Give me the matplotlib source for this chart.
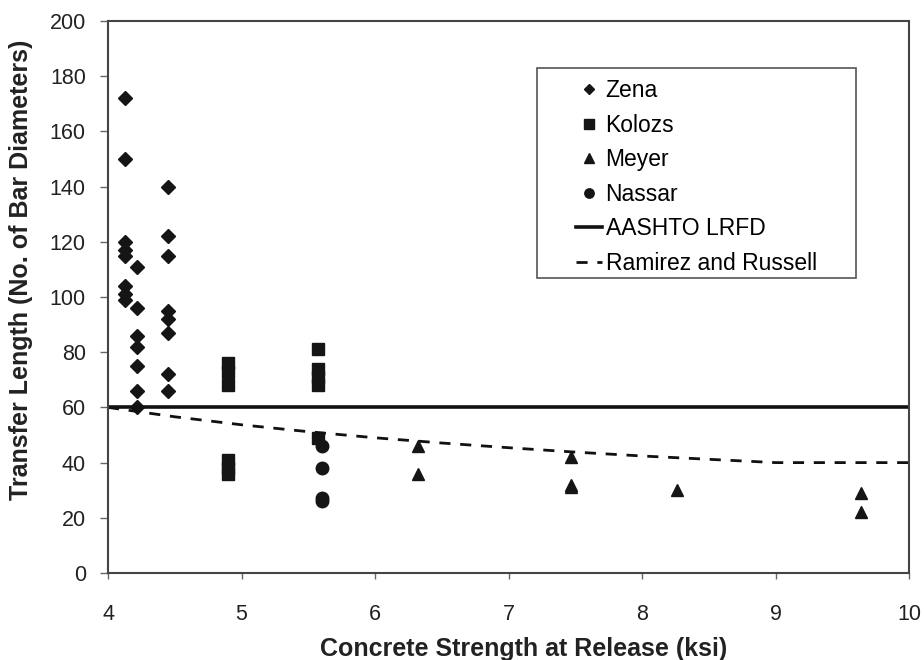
import matplotlib
matplotlib.use("Agg")
import matplotlib.pyplot as plt
from matplotlib.patches import Rectangle

plt.rcParams['font.family'] = ['Liberation Sans', 'DejaVu Sans']

# Transfer length measurements, (f'ci in ksi, length in bar diameters)
zena_x = [4.13, 4.13, 4.13, 4.13, 4.13, 4.13, 4.13, 4.13,
          4.22, 4.22, 4.22, 4.22, 4.22, 4.22, 4.22,
          4.45, 4.45, 4.45, 4.45, 4.45, 4.45, 4.45, 4.45]
zena_y = [172, 150, 120, 117, 115, 104, 101, 99,
          111, 96, 86, 82, 75, 66, 60,
          140, 122, 115, 95, 92, 87, 72, 66]

kolozs_x = [4.90, 4.90, 4.90, 4.90, 4.90, 4.90,
            5.57, 5.57, 5.57, 5.57, 5.57]
kolozs_y = [76, 73, 68, 41, 38, 36,
            81, 74, 71, 68, 49]

meyer_x = [6.32, 6.32, 7.47, 7.47, 7.47, 8.26, 9.64, 9.64]
meyer_y = [46, 36, 42, 32, 31, 30, 29, 22]

nassar_x = [5.60, 5.60, 5.60, 5.60]
nassar_y = [46, 38, 27, 26]

aashto_x = [4, 10]
aashto_y = [60, 60]

ramirez_x = [4, 4.5, 5, 5.5, 6, 6.5, 7, 7.5, 8, 8.5, 9, 10]
ramirez_y = [60, 56.6, 53.7, 51.2, 49, 47.1, 45.4, 43.8, 42.4, 41.2, 40, 40]

fig = plt.figure(figsize=(9.24, 6.6), dpi=100)
ax = fig.add_axes([0.1169, 0.1318, 0.8669, 0.8364])

ax.plot(zena_x, zena_y, 'D', color='#151515', ms=7, label='Zena')
ax.plot(kolozs_x, kolozs_y, 's', color='#151515', ms=9, label='Kolozs')
ax.plot(meyer_x, meyer_y, '^', color='#151515', ms=9, label='Meyer')
ax.plot(nassar_x, nassar_y, 'o', color='#151515', ms=9, label='Nassar')
ax.plot(aashto_x, aashto_y, '-', color='#111111', lw=2.6, label='AASHTO LRFD')
ax.plot(ramirez_x, ramirez_y, '--', color='#111111', lw=2.0,
        dashes=(4, 3.5), label='Ramirez and Russell')

ax.set_xlim(4, 10)
ax.set_ylim(0, 200)
ax.set_xticks(range(4, 11))
ax.set_yticks(range(0, 201, 20))

for s in ax.spines.values():
    s.set_color('#444444')
    s.set_linewidth(1.5)
ax.tick_params(axis='both', direction='out', width=1,
               color='#666666', labelsize=15.5, labelcolor='#222222')
ax.tick_params(axis='x', length=4, pad=18)
ax.tick_params(axis='y', length=6, pad=10)

ax.set_xlabel('Concrete Strength at Release (ksi)', fontsize=18,
              fontweight='bold', color='#222222')
ax.set_ylabel('Transfer Length (No. of Bar Diameters)', fontsize=18,
              fontweight='bold', color='#222222')
ax.xaxis.set_label_coords(0.519, -0.116)
ax.yaxis.set_label_coords(-0.094, 0.55)

# legend box drawn separately so the left padding can be wider than the rest
leg = ax.legend(loc='upper left', bbox_to_anchor=(0.574, 0.909),
                fontsize=16.5, frameon=False,
                handlelength=1.15, handletextpad=0.15, labelspacing=0.5,
                borderpad=0.35, borderaxespad=0, markerscale=0.75)
ax.add_patch(Rectangle((537 / 924, 1 - 278 / 660), (856 - 537) / 924,
                       (278 - 68) / 660, transform=fig.transFigure,
                       facecolor='white', edgecolor='#555555', lw=1.2,
                       zorder=4))

fig.savefig('out.png', dpi=100)
